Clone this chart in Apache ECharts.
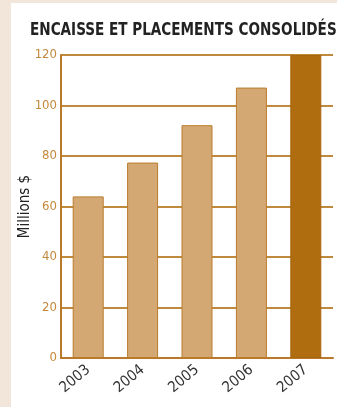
<!DOCTYPE html>
<html><head><meta charset="utf-8">
<script src="https://cdn.jsdelivr.net/npm/echarts@6/dist/echarts.min.js"></script>
<style>
html,body{margin:0;padding:0;background:#f2e6da;}
#wrap{position:absolute;left:11px;top:3px;width:326px;height:404px;background:#fff;}
#c{position:absolute;left:0;top:0;width:337px;height:407px;}
</style></head>
<body><div id="wrap"></div><div id="c"></div>
<script>
const categories = ['2003','2004','2005','2006','2007'];
const values = [64, 77.4, 92.2, 107.1, 120];
const yTicks = [0, 20, 40, 60, 80, 100, 120];
const title = 'ENCAISSE ET PLACEMENTS CONSOLIDÉS';
const yName = 'Millions $';
const FF = '"DejaVu Sans Condensed", Roboto, sans-serif';

const chart = echarts.init(document.getElementById('c'), null, {renderer:'canvas'});
chart.setOption({
  backgroundColor: 'transparent',
  animation: false,
  graphic: [{
    type: 'text', left: 30, top: 21, scaleX: 0.862,
    style: {text: title, fontFamily: FF, fontWeight: 'bold', fontSize: 17.5, fill: '#222'}
  }],
  grid: {left: 61, right: 4, top: 55, bottom: 49, containLabel: false},
  xAxis: {
    type: 'category', data: categories,
    axisLine: {lineStyle: {color: '#b9782a', width: 2}},
    axisTick: {inside: true, length: 4, lineStyle: {color: '#b9782a', width: 1}},
    axisLabel: {rotate: 40, color: '#333', fontSize: 15, fontFamily: FF, margin: 10}
  },
  yAxis: {
    type: 'value', min: yTicks[0], max: yTicks[yTicks.length-1], interval: 20,
    name: yName, nameLocation: 'middle', nameGap: 28, nameRotate: 90, nameMoveOverlap: false,
    nameTextStyle: {color: '#222', fontSize: 15, fontFamily: FF},
    axisLine: {show: true, lineStyle: {color: '#b9782a', width: 2}},
    axisTick: {show: false},
    axisLabel: {color: '#c4883a', fontSize: 13, fontFamily: FF, margin: 4},
    splitLine: {lineStyle: {color: '#c08a3e', width: 2}}
  },
  series: [{
    type: 'bar', barWidth: 31,
    data: values.map((v, i) => ({
      value: v,
      itemStyle: i === values.length - 1
        ? {color: '#b06d10', borderColor: '#a8660e', borderWidth: 1}
        : {color: '#d4a873', borderColor: '#ba7c2c', borderWidth: 1}
    }))
  }]
});
</script></body></html>
